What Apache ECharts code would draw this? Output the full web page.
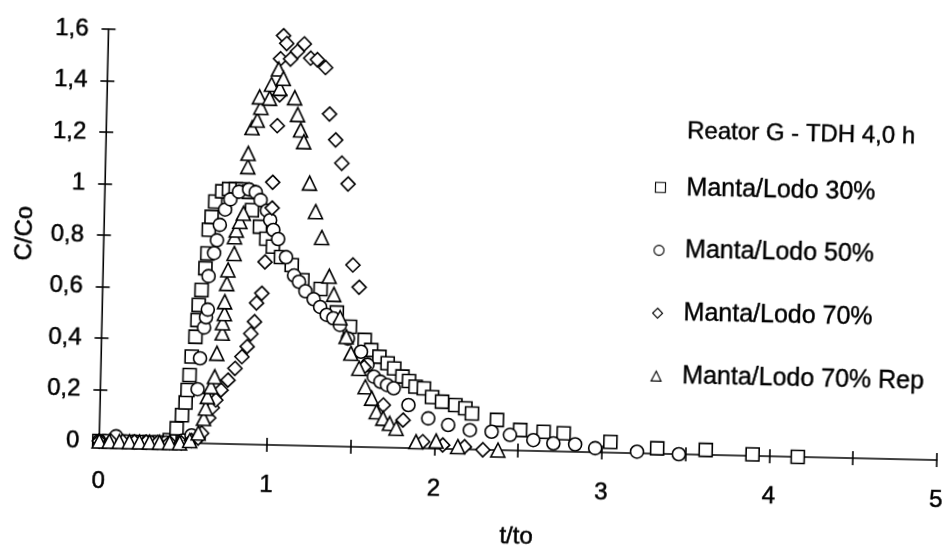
<!DOCTYPE html>
<html>
<head>
<meta charset="utf-8">
<title>Reator G - TDH 4,0 h</title>
<script src="https://cdn.jsdelivr.net/npm/echarts@6.0.0/dist/echarts.min.js"></script>
<style>
    html, body { margin: 0; padding: 0; background: #fff; overflow: hidden; }
    /* the scanned original is turned slightly clockwise */
    #main { width: 947px; height: 548px; transform: rotate(1.3deg); transform-origin: 97px 441px; }
</style>
</head>
<body>
<div id="main"></div>
<script>
    // 数据 (t/to, C/Co)
    let seriesNames = ['Manta/Lodo 30%', 'Manta/Lodo 50%', 'Manta/Lodo 70%', 'Manta/Lodo 70% Rep'];

    let manta30 = [
        [0, 0], [0.06, 0], [0.12, 0], [0.18, 0], [0.24, 0], [0.30, 0], [0.36, 0], [0.42, 0.01],
        [0.46, 0.056], [0.49, 0.108], [0.51, 0.157], [0.52, 0.206], [0.53, 0.264], [0.54, 0.336],
        [0.56, 0.413], [0.57, 0.478], [0.575, 0.537], [0.59, 0.595], [0.61, 0.68], [0.62, 0.738],
        [0.625, 0.83], [0.64, 0.88], [0.66, 0.94], [0.70, 0.98], [0.74, 0.99], [0.78, 0.99],
        [0.82, 0.99], [0.86, 0.98], [0.88, 0.91], [0.93, 0.846], [0.97, 0.80], [1.01, 0.77],
        [1.06, 0.73], [1.125, 0.70], [1.19, 0.643], [1.30, 0.61], [1.40, 0.52], [1.48, 0.466],
        [1.57, 0.416], [1.61, 0.377], [1.66, 0.352], [1.71, 0.327], [1.75, 0.308], [1.80, 0.277],
        [1.84, 0.26], [1.88, 0.239], [1.93, 0.233], [1.98, 0.20], [2.04, 0.183], [2.12, 0.171],
        [2.18, 0.159], [2.22, 0.14], [2.37, 0.117], [2.51, 0.08], [2.65, 0.075], [2.77, 0.071],
        [3.05, 0.042], [3.33, 0.021], [3.62, 0.019], [3.90, 0.006], [4.17, 0.0]
    ];

    let manta50 = [
        [0, 0], [0.10, 0.02], [0.20, 0], [0.30, 0], [0.40, 0], [0.50, 0.01], [0.55, 0.03],
        [0.58, 0.21], [0.59, 0.33], [0.61, 0.45], [0.62, 0.49], [0.63, 0.52], [0.63, 0.65],
        [0.66, 0.74], [0.675, 0.79], [0.69, 0.85], [0.72, 0.91], [0.75, 0.95], [0.80, 0.98],
        [0.86, 0.99], [0.90, 0.98], [0.93, 0.95], [0.97, 0.91], [0.99, 0.873], [1.01, 0.835],
        [1.04, 0.80], [1.09, 0.73], [1.14, 0.66], [1.17, 0.636], [1.21, 0.60], [1.26, 0.57],
        [1.30, 0.54], [1.34, 0.51], [1.38, 0.497], [1.42, 0.472], [1.47, 0.42], [1.55, 0.37],
        [1.59, 0.32], [1.63, 0.274], [1.67, 0.255], [1.71, 0.243], [1.75, 0.231], [1.84, 0.167],
        [1.96, 0.117], [2.08, 0.093], [2.21, 0.075], [2.34, 0.071], [2.45, 0.06], [2.59, 0.042],
        [2.71, 0.031], [2.84, 0.029], [2.96, 0.016], [3.21, 0.006], [3.46, 0.0]
    ];

    let manta70 = [
        [0, 0], [0.07, 0], [0.14, 0], [0.21, 0], [0.28, 0], [0.35, 0], [0.42, 0], [0.49, 0],
        [0.55, 0.01], [0.59, 0.02], [0.61, 0.04], [0.65, 0.10], [0.67, 0.14], [0.69, 0.17],
        [0.72, 0.209], [0.76, 0.248], [0.80, 0.294], [0.84, 0.34], [0.87, 0.38], [0.89, 0.43],
        [0.91, 0.477], [0.92, 0.55], [0.95, 0.588], [0.965, 0.71], [1.0, 0.92], [1.0, 1.02],
        [1.02, 1.24], [1.03, 1.36], [1.03, 1.50], [1.045, 1.59], [1.065, 1.56], [1.09, 1.50],
        [1.13, 1.53], [1.17, 1.56], [1.21, 1.505], [1.25, 1.50], [1.30, 1.47], [1.33, 1.29],
        [1.37, 1.19], [1.41, 1.10], [1.45, 1.02], [1.49, 0.706], [1.53, 0.62], [1.57, 0.31],
        [1.69, 0.165], [1.81, 0.108], [1.93, 0.026], [2.05, 0.015], [2.18, 0.01], [2.29, 0.0]
    ];

    let manta70Rep = [
        [0, 0], [0.06, 0], [0.12, 0], [0.18, 0], [0.24, 0], [0.30, 0], [0.36, 0], [0.42, 0],
        [0.48, 0], [0.54, 0.01], [0.59, 0.04], [0.62, 0.097], [0.63, 0.137], [0.64, 0.182],
        [0.66, 0.221], [0.68, 0.26], [0.69, 0.351], [0.72, 0.43], [0.72, 0.47], [0.73, 0.506],
        [0.73, 0.552], [0.74, 0.623], [0.745, 0.676], [0.78, 0.74], [0.78, 0.805], [0.79, 0.831],
        [0.81, 0.865], [0.83, 0.897], [0.85, 1.078], [0.85, 1.13], [0.87, 1.23], [0.90, 1.26],
        [0.92, 1.31], [0.91, 1.35], [0.97, 1.346], [0.98, 1.40], [1.02, 1.46], [1.03, 1.385],
        [1.05, 1.424], [1.12, 1.35], [1.14, 1.285], [1.16, 1.225], [1.18, 1.18], [1.22, 1.02],
        [1.26, 0.91], [1.30, 0.81], [1.35, 0.66], [1.38, 0.59], [1.42, 0.50], [1.46, 0.427],
        [1.49, 0.363], [1.54, 0.305], [1.58, 0.234], [1.62, 0.19], [1.65, 0.138], [1.69, 0.113],
        [1.73, 0.094], [1.77, 0.076], [1.89, 0.025], [2.01, 0.03], [2.14, 0.01], [2.38, 0.0]
    ];

    let seriesSymbols = ['rect', 'circle', 'diamond', 'triangle'];
    let seriesData = [manta30, manta50, manta70, manta70Rep];

    let xMin = 0, xMax = 5, xStep = 0.5;
    let yMin = 0, yMax = 1.6, yStep = 0.2;

    let font = '"Liberation Sans", Arial, sans-serif';
    let black = '#000';

    let myChart = echarts.init(document.getElementById('main'), null, {renderer: 'canvas'});

    // 十字刻度：外侧一根轴，内侧一根轴
    function valueAxis(min, max, step, inside, extra) {
        let axis = {
            type: 'value',
            min: min,
            max: max,
            interval: step,
            splitLine: {show: false},
            axisLine: {show: !inside, lineStyle: {color: black, width: 1.6}},
            axisTick: {inside: inside, length: 7, lineStyle: {color: black, width: 1.6}},
            axisLabel: {show: false}
        };
        return Object.assign(axis, extra || {});
    }

    // 扫描件文字偏粗，加一点描边
    let labelStyle = {fontSize: 24, color: black, fontFamily: font, textBorderColor: black, textBorderWidth: 0.5};

    myChart.setOption({
        animation: false,
        backgroundColor: '#fff',
        title: {
            text: 'Reator G - TDH 4,0 h',
            left: 675,
            top: 101,
            textStyle: {fontSize: 24, fontWeight: 'normal', color: black, fontFamily: font,
                textBorderColor: black, textBorderWidth: 0.4}
        },
        legend: {
            orient: 'vertical',
            left: 644,
            top: 157,
            itemWidth: 10,
            itemHeight: 10,
            itemGap: 37.5,
            selectedMode: false,
            data: seriesNames,
            itemStyle: {borderWidth: 1.1},
            textStyle: {fontSize: 25, lineHeight: 24, color: black, fontFamily: font,
                padding: [0, 0, 0, 16], textBorderColor: black, textBorderWidth: 0.4}
        },
        grid: {left: 97, right: 10, top: 29, bottom: 107},
        xAxis: [
            valueAxis(xMin, xMax, xStep, false, {
                position: 'bottom',
                name: 't/to',
                nameLocation: 'middle',
                nameGap: 74,
                nameTextStyle: labelStyle,
                axisLabel: Object.assign({
                    margin: 28,
                    formatter: function (v) {
                        return Math.abs(v - Math.round(v)) < 1e-6 ? String(Math.round(v)) : '';
                    }
                }, labelStyle)
            }),
            valueAxis(xMin, xMax, xStep, true, {position: 'bottom'})
        ],
        yAxis: [
            valueAxis(yMin, yMax, yStep, false, {
                position: 'left',
                name: 'C/Co',
                nameLocation: 'middle',
                nameRotate: 90,
                nameGap: 67,
                nameTextStyle: labelStyle,
                axisLabel: Object.assign({
                    margin: 20,
                    formatter: function (v) {
                        return String(Math.round(v * 10) / 10).replace('.', ',');
                    }
                }, labelStyle)
            }),
            valueAxis(yMin, yMax, yStep, true, {position: 'left'})
        ],
        series: seriesNames.map(function (name, i) {
            return {
                name: name,
                type: 'scatter',
                xAxisIndex: 0,
                yAxisIndex: 0,
                symbol: seriesSymbols[i],
                symbolSize: i >= 2 ? 14 : 13,
                clip: false,
                itemStyle: {color: '#fff', borderColor: black, borderWidth: 1.6, opacity: 1},
                emphasis: {disabled: true},
                data: seriesData[i]
            };
        })
    });
</script>
</body>
</html>
